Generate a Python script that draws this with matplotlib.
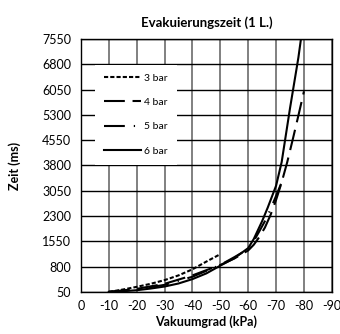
import matplotlib.pyplot as plt
import numpy as np

plt.rcParams['font.family'] = ['Lato', 'DejaVu Sans']
plt.rcParams['axes.unicode_minus'] = False

# (kPa, ms)
x_3bar = [-10, -15, -20, -25, -30, -35, -40, -45, -50]
y_3bar = [50, 120, 200, 290, 400, 540, 720, 950, 1170]

x_4bar = [-10, -20, -30, -40, -50, -55, -60, -62, -64, -66, -68, -70, -72, -74, -76, -78, -80]
y_4bar = [50, 140, 290, 540, 850, 1040, 1280, 1450, 1680, 1960, 2330, 2780, 3300, 3900, 4580, 5280, 6000]

x_5bar = [-10, -20, -30, -40, -50, -55, -60, -62, -64, -66, -68, -70, -72.5]
y_5bar = [50, 120, 260, 500, 850, 1080, 1320, 1560, 1850, 2150, 2500, 2900, 3400]

x_6bar = [-10, -15, -20, -25, -30, -35, -40, -45, -50, -55, -60, -62, -65, -67, -70, -72, -75, -78, -80]
y_6bar = [50, 70, 100, 150, 210, 300, 430, 600, 830, 1050, 1350, 1620, 2150, 2550, 3200, 3900, 5500, 7000, 8200]

x_ticks = [0, -10, -20, -30, -40, -50, -60, -70, -80, -90]
y_ticks = [50, 800, 1550, 2300, 3050, 3800, 4550, 5300, 6050, 6800, 7550]

fig = plt.figure(figsize=(3.4, 3.34), dpi=100)
ax = fig.add_axes([0.238, 0.126, 0.738, 0.757])

lw = 1.5
ax.plot(x_3bar, y_3bar, color='black', lw=lw, linestyle=(0, (2, 1)), label='3 bar')
ax.plot(x_4bar, y_4bar, color='black', lw=lw, linestyle=(0, (10, 3.7)), label='4 bar')
ax.plot(x_5bar, y_5bar, color='black', lw=lw, linestyle=(0, (10, 4.3, 0.6, 4.3)), label='5 bar')
ax.plot(x_6bar, y_6bar, color='black', lw=lw, linestyle='-', label='6 bar')

ax.set_xlim(0, -90)
ax.set_ylim(50, 7550)
ax.set_xticks(x_ticks)
ax.set_yticks(y_ticks)
ax.tick_params(axis='both', length=0, labelsize=9)
ax.tick_params(axis='y', pad=7)
ax.tick_params(axis='x', pad=6)

ax.grid(axis='x', color='#808080', lw=1.4)
ax.grid(axis='y', color='black', lw=1.0)
ax.set_axisbelow(True)
for s in ax.spines.values():
    s.set_color('black')
    s.set_linewidth(1.0)

ax.set_title('Evakuierungszeit (1 L.)', fontsize=9.5, fontweight='bold', pad=9)
ax.set_xlabel('Vakuumgrad (kPa)', fontsize=9, fontweight='bold', labelpad=2)
ax.set_ylabel('Zeit (ms)', fontsize=9, fontweight='bold', labelpad=15)

leg = ax.legend(loc='upper left', bbox_to_anchor=(0.035, 0.92), fontsize=7.5,
                handlelength=3.6, labelspacing=1.45, handletextpad=0.3,
                borderpad=0.85, frameon=True, fancybox=False, framealpha=1)
leg.get_frame().set_edgecolor('none')
leg.get_frame().set_facecolor('white')

fig.savefig('out.png', dpi=100)
